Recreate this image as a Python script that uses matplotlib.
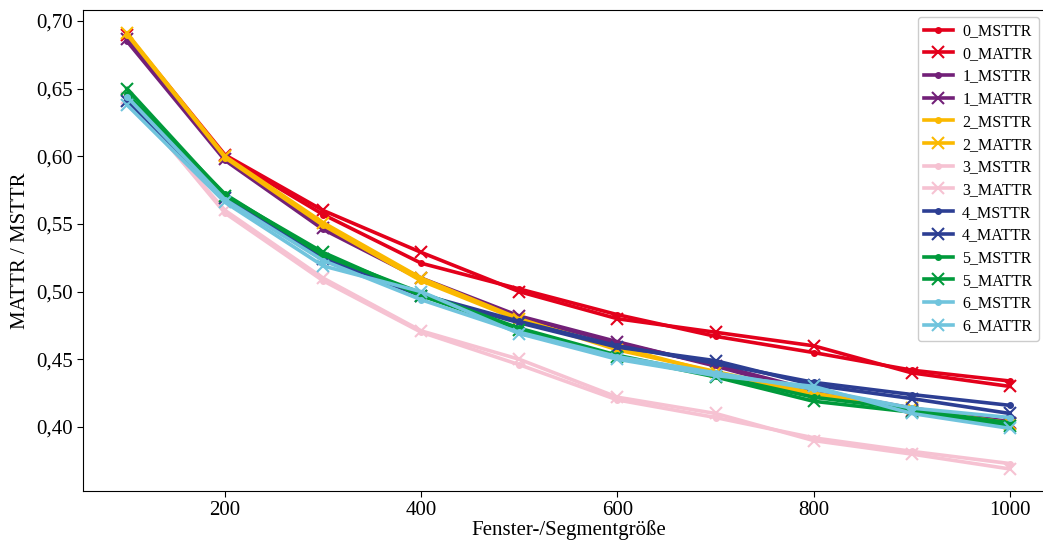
import numpy as np
import matplotlib
matplotlib.use('Agg')
import matplotlib.pyplot as plt
import matplotlib.ticker as mticker

plt.rcParams['font.family'] = ['Liberation Serif', 'DejaVu Serif']

# Fenstergrößen
fenster = [100, 200, 300, 400, 500, 600, 700, 800, 900, 1000]

# Werte je Korpus (MSTTR / MATTR)
msttr_0 = [0.688, 0.600, 0.557, 0.521, 0.502, 0.483, 0.467, 0.455, 0.442, 0.434]
mattr_0 = [0.690, 0.601, 0.560, 0.529, 0.500, 0.480, 0.470, 0.460, 0.440, 0.430]
msttr_1 = [0.685, 0.597, 0.546, 0.509, 0.481, 0.462, 0.446, 0.427, 0.414, 0.404]
mattr_1 = [0.687, 0.598, 0.547, 0.510, 0.482, 0.463, 0.445, 0.425, 0.412, 0.403]
msttr_2 = [0.690, 0.599, 0.549, 0.508, 0.479, 0.459, 0.440, 0.424, 0.413, 0.403]
mattr_2 = [0.691, 0.600, 0.551, 0.510, 0.480, 0.457, 0.441, 0.425, 0.414, 0.402]
msttr_3 = [0.645, 0.558, 0.508, 0.470, 0.446, 0.420, 0.407, 0.392, 0.382, 0.373]
mattr_3 = [0.643, 0.560, 0.510, 0.471, 0.450, 0.422, 0.410, 0.390, 0.380, 0.369]
msttr_4 = [0.642, 0.570, 0.525, 0.498, 0.478, 0.460, 0.447, 0.433, 0.424, 0.416]
mattr_4 = [0.641, 0.569, 0.524, 0.497, 0.477, 0.459, 0.449, 0.431, 0.421, 0.410]
msttr_5 = [0.646, 0.572, 0.527, 0.499, 0.473, 0.453, 0.438, 0.422, 0.413, 0.403]
mattr_5 = [0.650, 0.571, 0.529, 0.497, 0.472, 0.452, 0.437, 0.419, 0.411, 0.401]
msttr_6 = [0.644, 0.568, 0.523, 0.494, 0.470, 0.452, 0.440, 0.428, 0.414, 0.407]
mattr_6 = [0.638, 0.566, 0.519, 0.500, 0.469, 0.450, 0.438, 0.430, 0.410, 0.399]

farben = ['#e3001b', '#722078', '#fbb900', '#f6c2d2', '#2c3e93', '#009a3b', '#70c4dd']
msttr = [msttr_0, msttr_1, msttr_2, msttr_3, msttr_4, msttr_5, msttr_6]
mattr = [mattr_0, mattr_1, mattr_2, mattr_3, mattr_4, mattr_5, mattr_6]

fig = plt.figure(figsize=(10.43, 5.41), dpi=100)
ax = fig.add_axes([0.0795, 0.0924, 0.931, 0.889])

for i in range(7):
    ax.plot(fenster, msttr[i], color=farben[i], lw=2.6, marker='o', ms=4, label=f'{i}_MSTTR')
    ax.plot(fenster, mattr[i], color=farben[i], lw=2.6, marker='x', ms=8, mew=1.5, label=f'{i}_MATTR')

ax.set_xlim(55, 1045)
ax.set_ylim(0.3527, 0.7081)
ax.set_xticks([200, 400, 600, 800, 1000])
ax.set_yticks([0.40, 0.45, 0.50, 0.55, 0.60, 0.65, 0.70])
ax.yaxis.set_major_formatter(mticker.FuncFormatter(lambda v, p: f'{v:.2f}'.replace('.', ',')))
ax.tick_params(labelsize=15, direction='out', length=4)
ax.set_xlabel('Fenster-/Segmentgröße', fontsize=15, labelpad=0)
ax.set_ylabel('MATTR / MSTTR', fontsize=15)

fig.legend(loc='upper right', bbox_to_anchor=(0.999, 0.975), fontsize=11.5,
           handlelength=1.8, handletextpad=0.6, labelspacing=0.42, borderaxespad=0.2,
           framealpha=1, edgecolor='#cccccc')

fig.savefig('out.png', dpi=100)
